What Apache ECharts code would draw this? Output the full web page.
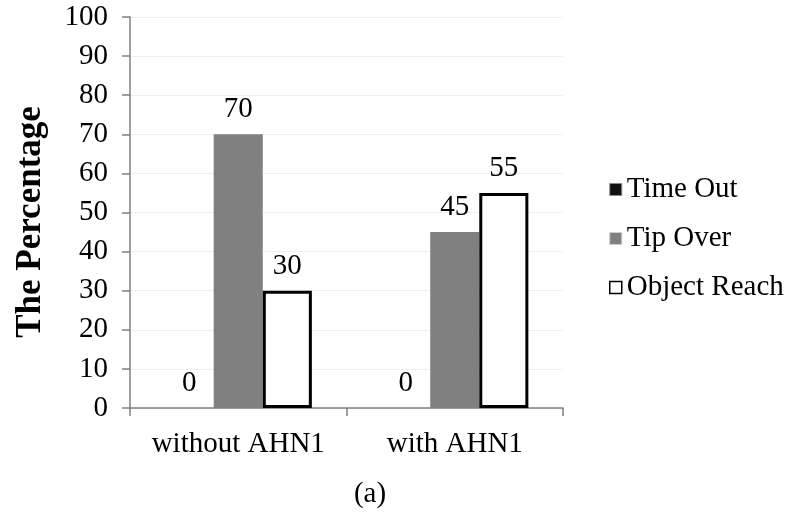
<!DOCTYPE html>
<html>
<head>
<meta charset="utf-8">
<script src="https://cdn.jsdelivr.net/npm/echarts@6/dist/echarts.min.js"></script>
<style>
  html, body { margin: 0; padding: 0; background: #fff; }
  #chart { width: 795px; height: 524px; }
</style>
</head>
<body>
<div id="chart"></div>
<script>
// Outcome percentages per condition
const categories = ['without AHN1', 'with AHN1'];
const timeOut = [0, 0];
const tipOver = [70, 45];
const objectReach = [30, 55];
const yTicks = { min: 0, max: 100, interval: 10 };

const serif = '"Liberation Serif", "Times New Roman", serif';
const chart = echarts.init(document.getElementById('chart'));

const labelStyle = {
  show: true,
  position: 'top',
  distance: 10,
  fontFamily: serif,
  fontSize: 29,
  color: '#000'
};

chart.setOption({
  animation: false,
  backgroundColor: '#fff',
  textStyle: { fontFamily: serif },
  grid: { left: 130, top: 17, right: 232, bottom: 116 },
  legend: {
    orient: 'vertical',
    left: 604,
    top: 170,
    itemWidth: 12,
    itemHeight: 12,
    itemGap: 20,
    textStyle: { fontFamily: serif, fontSize: 29, color: '#000' },
    data: [
      { name: 'Time Out', icon: 'rect', itemStyle: { color: '#111', borderColor: '#888', borderWidth: 1 } },
      { name: 'Tip Over', icon: 'rect', itemStyle: { color: '#808080', borderColor: '#ccc', borderWidth: 1 } },
      { name: 'Object Reach', icon: 'rect', itemStyle: { color: '#fff', borderColor: '#000', borderWidth: 1.5 } }
    ]
  },
  xAxis: {
    type: 'category',
    data: categories,
    axisLine: { lineStyle: { color: '#808080', width: 1.5 } },
    axisTick: { show: true, length: 8, lineStyle: { color: '#808080', width: 1.5 } },
    axisLabel: {
      interval: 0,
      hideOverlap: false,
      fontFamily: serif,
      fontSize: 29,
      color: '#000',
      margin: 22
    }
  },
  yAxis: {
    type: 'value',
    min: yTicks.min,
    max: yTicks.max,
    interval: yTicks.interval,
    axisLine: { show: true, lineStyle: { color: '#808080', width: 1.5 } },
    axisTick: { show: true, length: 8, lineStyle: { color: '#808080', width: 1.5 } },
    axisLabel: { fontFamily: serif, fontSize: 29, color: '#000', margin: 22 },
    splitLine: { show: true, lineStyle: { color: '#efefef', width: 1 } }
  },
  series: [
    {
      name: 'Time Out',
      type: 'bar',
      data: timeOut,
      barGap: '0%',
      barCategoryGap: '32%',
      itemStyle: { color: '#111' },
      label: labelStyle
    },
    {
      name: 'Tip Over',
      type: 'bar',
      data: tipOver,
      itemStyle: { color: '#808080' },
      label: labelStyle
    },
    {
      name: 'Object Reach',
      type: 'bar',
      data: objectReach,
      itemStyle: { color: '#fff', borderColor: '#000', borderWidth: 3 },
      label: labelStyle
    }
  ],
  graphic: [
    {
      // vertical axis title
      type: 'text',
      x: 31,
      y: 222,
      rotation: Math.PI / 2,
      style: {
        text: 'The Percentage',
        fontFamily: serif,
        fontSize: 35,
        fontWeight: 'bold',
        fill: '#000',
        align: 'center',
        verticalAlign: 'middle'
      }
    },
    {
      type: 'text',
      x: 370,
      y: 494,
      style: {
        text: '(a)',
        fontFamily: serif,
        fontSize: 29,
        fill: '#000',
        align: 'center',
        verticalAlign: 'middle'
      }
    }
  ]
});
</script>
</body>
</html>
